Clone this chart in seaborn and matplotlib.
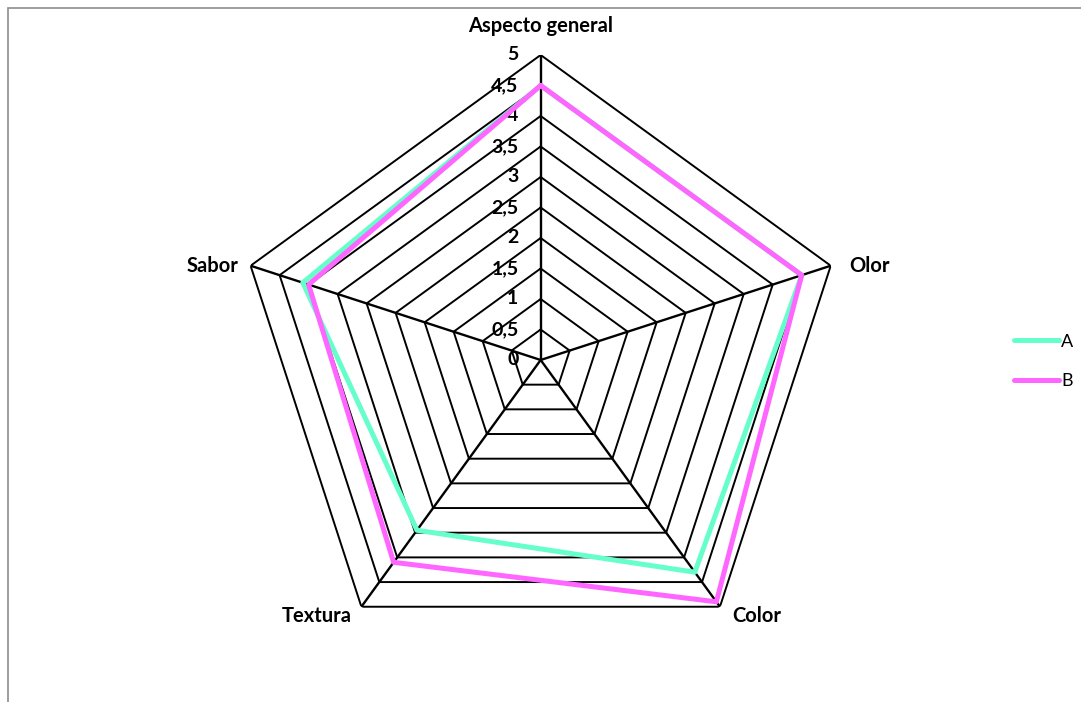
import numpy as np
import pandas as pd
import matplotlib
matplotlib.use("Agg")
import matplotlib.pyplot as plt
from matplotlib.patches import Rectangle
import seaborn as sns

# data
categories = ["Aspecto general", "Olor", "Color", "Textura", "Sabor"]
serie_a = [4.5, 4.5, 4.3, 3.45, 4.1]
serie_b = [4.5, 4.5, 4.9, 4.1, 4.0]
series_names = ["A", "B"]
colors = ["#66FFCC", "#FF66FF"]
tick_values = [0, 0.5, 1, 1.5, 2, 2.5, 3, 3.5, 4, 4.5, 5]
tick_labels = ["0", "0,5", "1", "1,5", "2", "2,5", "3", "3,5", "4", "4,5", "5"]

sns.set_style("white")
plt.rcParams["font.family"] = ["Lato", "DejaVu Sans"]
plt.rcParams["text.color"] = "black"

n = len(categories)
angles = np.arange(n) * 2 * np.pi / n
closed = np.append(angles, angles[0])

rows = []
for name, vals in zip(series_names, [serie_a, serie_b]):
    for k, th in enumerate(closed):
        rows.append({"theta": th, "valor": vals[k % n], "serie": name, "orden": k})
df = pd.DataFrame(rows)

fig = plt.figure(figsize=(10.81, 7.02), dpi=100)
ax = fig.add_axes([0.218, 0.0527, 0.5643, 0.869], projection="polar")
ax.set_theta_offset(np.pi / 2)
ax.set_theta_direction(-1)
ax.set_ylim(0, 5)
ax.grid(False)
ax.spines["polar"].set_visible(False)
ax.set_xticks([])
ax.set_yticks([])
ax.patch.set_alpha(0)

# pentagon grid and spokes
for r in tick_values[1:]:
    ax.plot(closed, [r] * len(closed), color="black", lw=1.4, zorder=1)
for th in angles:
    ax.plot([th, th], [0, 5], color="black", lw=1.7, zorder=1)

sns.lineplot(data=df, x="theta", y="valor", hue="serie", palette=colors,
             sort=False, estimator=None, units="serie", lw=3.6, ax=ax,
             zorder=3, legend=False)
ax.set_xlabel("")
ax.set_ylabel("")

# radial tick labels
for v, lab in zip(tick_values, tick_labels):
    ax.annotate(lab, xy=(0, v), xytext=(-16, 0), textcoords="offset points",
                ha="right", va="center", fontsize=14, fontweight="bold",
                color="black", zorder=2)

# category labels
offsets = [(0, 21, "center"), (13, 0, "left"), (9, -7, "left"),
           (-7, -7, "right"), (-9, 0, "right")]
for th, lab, (dx, dy, ha) in zip(angles, categories, offsets):
    ax.annotate(lab, xy=(th, 5), xytext=(dx, dy), textcoords="offset points",
                ha=ha, va="center", fontsize=14.5, fontweight="bold",
                color="black")

# legend
handles = [plt.Line2D([], [], color=c, lw=3.6) for c in colors]
fig.legend(handles, series_names, loc="center left",
           bbox_to_anchor=(0.923, 0.485), frameon=False, fontsize=13,
           handlelength=2.5, handletextpad=0.1, labelspacing=1.3)

# chart area border
fig.patches.append(Rectangle((8 / 1081, -0.1), 1.2, (702 - 8) / 702 + 0.1,
                             transform=fig.transFigure, fill=False,
                             edgecolor="#8c8c8c", lw=1.2))

fig.savefig("out.png", dpi=100)
